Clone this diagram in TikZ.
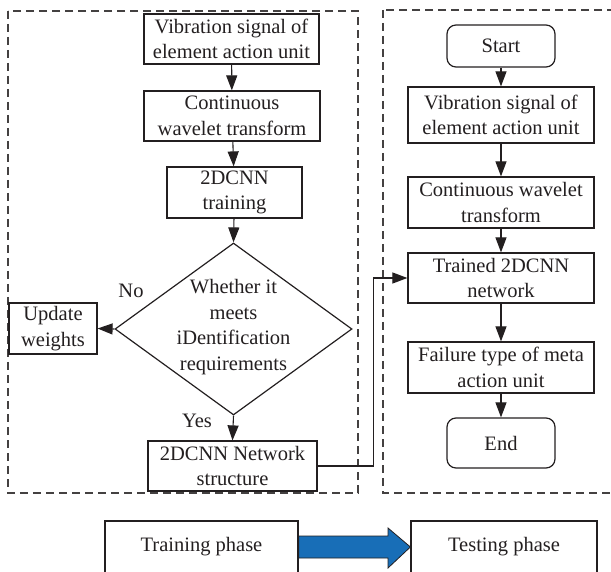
\documentclass[tikz,border=0pt]{standalone}
\usepackage{fontspec}
\setmainfont{Liberation Serif}
\usetikzlibrary{shapes.geometric,arrows.meta}
\definecolor{ink}{RGB}{35,31,32}
\definecolor{bluearrow}{RGB}{24,110,183}
\begin{document}
\begin{tikzpicture}[x=1pt,y=-1pt,
  font=\fontsize{20.5}{25.5}\selectfont,
  every node/.style={text=ink},
  box/.style={draw=ink, line width=1.2pt, align=center, inner sep=0pt},
  rbox/.style={box, rounded corners=9pt},
  dia/.style={draw=ink, line width=1.2pt, shape=diamond, inner sep=0pt},
  arr/.style={draw=ink, line width=1.1pt, -{Triangle[length=15pt,width=11pt]}},
  frame/.style={draw=ink!85, line width=1.2pt, dash pattern=on 8pt off 5pt}]
\clip (0,0) rectangle (611,572);
\useasboundingbox (0,0) rectangle (611,572);

% dashed frames
\draw[frame] (8,11) rectangle (358,493);
\draw[frame] (383,10) rectangle (640,493);

% left column (training)
\node[box, minimum width=175pt, minimum height=50pt] (l1) at (231.5,39) {Vibration signal of\\element action unit};
\node[box, minimum width=176pt, minimum height=50pt] (l2) at (232,116) {Continuous\\wavelet transform};
\node[box, minimum width=135pt, minimum height=51pt] (l3) at (234.5,192.5) {2DCNN\\training};
\node[dia, minimum width=237pt, minimum height=172pt] (d) at (233.5,329) {};
\node[align=center, inner sep=0pt] (dt) at (233.5,327) {Whether it\\meets\\iDentification\\requirements};
\node[box, minimum width=88pt, minimum height=51pt] (uw) at (53,328.5) {Update\\weights};
\node[box, minimum width=169pt, minimum height=50pt] (l4) at (232.5,466) {2DCNN Network\\structure};
\node (no) at (131,291) {No};
\node (yes) at (197,421) {Yes};

\draw[arr] (l1) -- (l2);
\draw[arr] (l2) -- (l3);
\draw[arr] (l3) -- (d.north);
\draw[arr] (d.west) -- (uw.east);
\draw[arr] (d.south) -- (l4.north);

% right column (testing)
\node[rbox, minimum width=108pt, minimum height=42pt] (st) at (501,46) {Start};
\node[box, minimum width=186pt, minimum height=56pt] (r1) at (501,115) {Vibration signal of\\element action unit};
\node[box, minimum width=186pt, minimum height=51pt] (r2) at (501,202.5) {Continuous wavelet\\transform};
\node[box, minimum width=186pt, minimum height=50pt] (r3) at (501,278) {Trained 2DCNN\\network};
\node[box, minimum width=186pt, minimum height=51pt] (r4) at (501,367.5) {Failure type of meta\\action unit};
\node[rbox, minimum width=108pt, minimum height=50pt] (en) at (501,443) {End};

\draw[arr] (st) -- (r1);
\draw[arr] (r1) -- (r2);
\draw[arr] (r2) -- (r3);
\draw[arr] (r3) -- (r4);
\draw[arr] (r4) -- (en);

\draw[arr] (l4.east) -- ++(56,0) |- (r3.west);

% phases
\node[box, minimum width=193pt, minimum height=52pt] (tp) at (201.5,547) {Training phase};
\node[box, minimum width=186pt, minimum height=52pt] (ts) at (504,547) {Testing phase};
\draw[draw=ink, line width=0.8pt, fill=bluearrow]
  (tp.east |- 0,536) -- (388,536) -- (388,528) -- (ts.west) -- (388,568) -- (388,558) -- (tp.east |- 0,558) -- cycle;
\end{tikzpicture}
\end{document}
